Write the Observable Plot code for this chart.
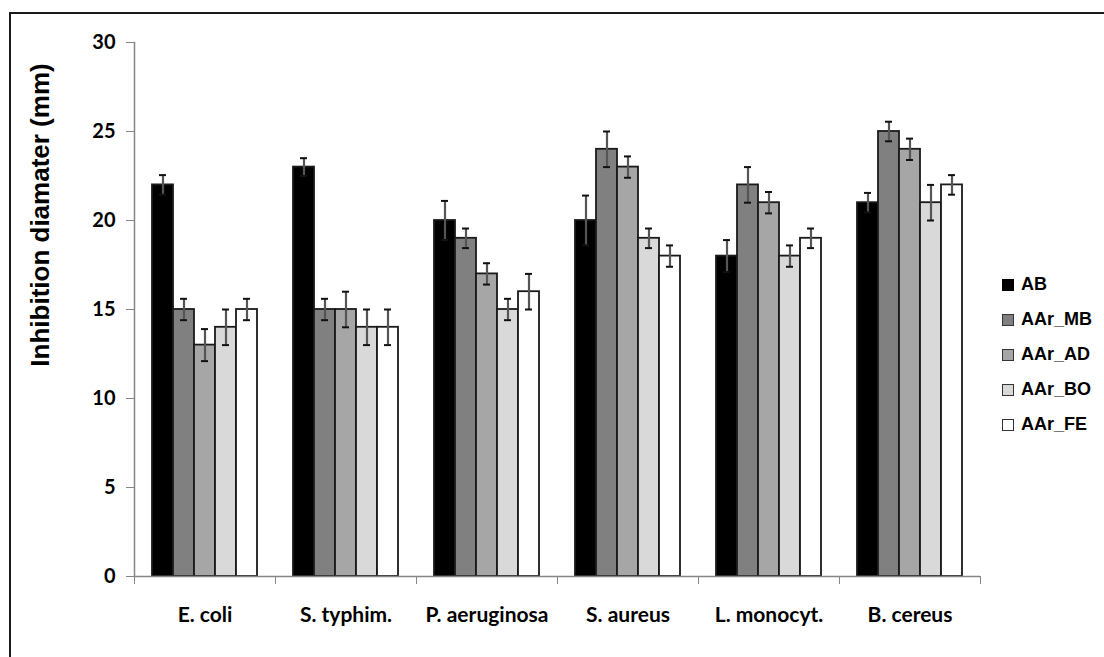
<!DOCTYPE html>
<html>
<head>
<meta charset="utf-8">
<script src="https://cdn.jsdelivr.net/npm/d3@7"></script>
<script src="https://cdn.jsdelivr.net/npm/@observablehq/plot@0.6"></script>
<style>
  html, body { margin: 0; padding: 0; background: #fff; overflow: hidden; }
  #wrap { position: relative; width: 1104px; height: 657px; }
  #frame { position: absolute; left: 9px; top: 12px; width: 1200px; height: 700px;
           border-left: 2px solid #1a1a1a; border-top: 2px solid #1a1a1a; pointer-events: none; }
  #ytitle { position: absolute; left: 40px; top: 215px; transform: translate(-50%, -50%) rotate(-90deg);
            font: bold 26px "Liberation Sans", Arial, sans-serif; white-space: nowrap; color: #000; }
  #legend { position: absolute; left: 1002px; top: 267px; font: bold 18px "Liberation Sans", Arial, sans-serif; color: #000; }
  .item { display: flex; align-items: center; height: 35px; }
  .sw { width: 10px; height: 10px; border: 1.5px solid #333; margin-right: 7px; }
  svg { position: absolute; left: 0; top: 0; }
</style>
</head>
<body>
<div id="wrap"></div>
<script>
const categories = ["E. coli", "S. typhim.", "P. aeruginosa", "S. aureus", "L. monocyt.", "B. cereus"];
const series = ["AB", "AAr_MB", "AAr_AD", "AAr_BO", "AAr_FE"];
const colors = ["#000000", "#808080", "#a6a6a6", "#d9d9d9", "#ffffff"];
const yTicks = [0, 5, 10, 15, 20, 25, 30];

const AB     = [22, 23, 20, 20, 18, 21];
const AAr_MB = [15, 15, 19, 24, 22, 25];
const AAr_AD = [13, 15, 17, 23, 21, 24];
const AAr_BO = [14, 14, 15, 19, 18, 21];
const AAr_FE = [15, 14, 16, 18, 19, 22];

const AB_err     = [0.55, 0.5, 1.1, 1.4, 0.9, 0.55];
const AAr_MB_err = [0.6, 0.6, 0.55, 1.0, 1.0, 0.55];
const AAr_AD_err = [0.9, 1.0, 0.6, 0.6, 0.6, 0.6];
const AAr_BO_err = [1.0, 1.0, 0.6, 0.55, 0.6, 1.0];
const AAr_FE_err = [0.6, 1.0, 1.0, 0.6, 0.55, 0.55];

const valuesBySeries = {AB, AAr_MB, AAr_AD, AAr_BO, AAr_FE};
const errBySeries = {AB: AB_err, AAr_MB: AAr_MB_err, AAr_AD: AAr_AD_err, AAr_BO: AAr_BO_err, AAr_FE: AAr_FE_err};

const data = [];
categories.forEach((c, i) => {
  series.forEach(s => {
    data.push({cat: c, series: s, value: valuesBySeries[s][i], err: errBySeries[s][i]});
  });
});

const W = 1104, ML = 134, MR = 124;
const step = (W - ML - MR) / categories.length;
const tickFont = "Lato, 'Open Sans', sans-serif";

const chart = Plot.plot({
  width: W,
  height: 657,
  marginLeft: ML,
  marginRight: MR,
  marginTop: 42,
  marginBottom: 81,
  style: {background: "transparent", fontFamily: tickFont, color: "#000"},
  fx: {domain: categories, padding: 0, label: null},
  x: {domain: series, paddingInner: 0, paddingOuter: 0.75, axis: null},
  y: {domain: [0, 30], label: null},
  color: {domain: series, range: colors},
  marks: [
    Plot.barY(data, {fx: "cat", x: "series", y: "value", fill: "series", stroke: "#1a1a1a", strokeWidth: 1.8}),
    Plot.ruleX(data, {fx: "cat", x: "series", y1: d => d.value - d.err, y2: d => d.value + d.err, stroke: "#555", strokeWidth: 2.2}),
    Plot.tickY(data, {fx: "cat", x: "series", y: d => d.value + d.err, stroke: "#111", strokeWidth: 2, insetLeft: 7, insetRight: 7}),
    Plot.tickY(data, {fx: "cat", x: "series", y: d => d.value - d.err, stroke: "#111", strokeWidth: 2, insetLeft: 7, insetRight: 7}),
    Plot.ruleY([0], {stroke: "#868686", strokeWidth: 1.5}),
    Plot.frame({anchor: "left", facetAnchor: "left", stroke: "#868686", strokeWidth: 1.5}),
    Plot.axisY({ticks: yTicks, tickSize: 8, tickPadding: 11, stroke: "#868686", fontSize: 20, fontWeight: "bold", fontFamily: tickFont, fill: "#000", label: null}),
    Plot.axisFx({anchor: "bottom", tickSize: 0, tickPadding: 31, fontSize: 21, fontWeight: "bold", fontFamily: tickFont, fill: "#000", label: null}),
    Plot.axisFx({anchor: "bottom", tickSize: 8, tickFormat: () => "", dx: step / 2, stroke: "#868686", label: null}),
    Plot.axisFx({anchor: "bottom", ticks: [categories[0]], tickSize: 8, tickFormat: () => "", dx: -step / 2, stroke: "#868686", label: null})
  ]
});

const wrap = document.getElementById("wrap");
wrap.appendChild(chart);

const yt = document.createElement("div");
yt.id = "ytitle";
yt.textContent = "Inhibition diamater (mm)";
wrap.appendChild(yt);

const legend = document.createElement("div");
legend.id = "legend";
series.forEach((s, i) => {
  const item = document.createElement("div");
  item.className = "item";
  const sw = document.createElement("div");
  sw.className = "sw";
  sw.style.background = colors[i];
  if (i === 0) sw.style.borderColor = "#000";
  const t = document.createElement("span");
  t.textContent = s;
  item.appendChild(sw);
  item.appendChild(t);
  legend.appendChild(item);
});
wrap.appendChild(legend);

const fr = document.createElement("div");
fr.id = "frame";
wrap.appendChild(fr);
</script>
</body>
</html>
